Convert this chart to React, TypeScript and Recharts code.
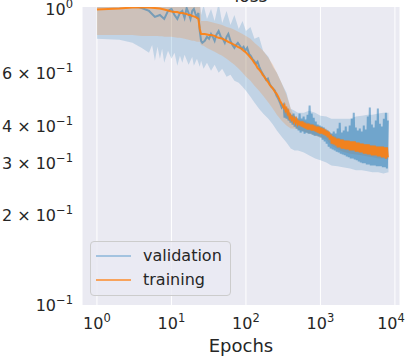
import React from "react";
import { ComposedChart, Area, Line, XAxis, YAxis, CartesianGrid, Legend } from "recharts";

// per-epoch mean loss (log spaced epochs, denser where the curves get noisy)
const lineEpochs = [
  1, 2, 3, 4, 5, 6, 7, 8, 9, 10, 11, 12, 13, 14, 15, 16, 17, 18, 19, 20, 21, 22, 23, 24, 25,
  26, 28, 30, 32, 34, 36, 38, 40, 43, 46, 49, 52, 55, 58, 62, 66, 70, 74, 78, 83, 88, 93, 98,
  104, 110, 116, 122, 129, 136, 143, 151, 159, 168, 177, 187, 197, 208, 219, 231, 244, 257, 271, 286, 302,
  320, 330, 340, 351, 362, 373, 385, 397, 410, 423,
  436, 450, 464, 479, 494, 509, 525, 542, 559, 576,
  595, 613, 633, 652, 673, 694, 716, 739, 762, 786,
  811, 836, 863, 890, 918, 947, 977, 1007, 1040, 1072,
  1106, 1141, 1177, 1214, 1252, 1292, 1332, 1374, 1417, 1462,
  1508, 1556, 1604, 1655, 1707, 1761, 1816, 1874, 1932, 1993,
  2056, 2121, 2187, 2256, 2327, 2401, 2476, 2554, 2634, 2718,
  2803, 2892, 2982, 3076, 3173, 3273, 3376, 3483, 3592, 3705,
  3821, 3942, 4066, 4194, 4326, 4463, 4602, 4747, 4897, 5051,
  5210, 5375, 5543, 5718, 5898, 6084, 6275, 6473, 6676, 6887,
  7103, 7327, 7558, 7796, 8041,
];

const trainLoss = [
  0.981, 0.989, 0.996, 0.996, 0.996, 0.992, 0.989, 0.981, 0.973, 0.966, 0.962, 0.962, 0.955, 0.955, 0.951,
  0.948, 0.94, 0.94, 0.933, 0.93, 0.926, 0.919, 0.912, 0.844, 0.812,
  0.812, 0.812, 0.809, 0.806, 0.806, 0.803, 0.8, 0.794, 0.788, 0.785, 0.782, 0.776, 0.77, 0.764, 0.758,
  0.752, 0.746, 0.741, 0.735, 0.729, 0.724, 0.713, 0.707,
  0.696, 0.686, 0.675, 0.665, 0.65, 0.64, 0.625, 0.616, 0.606, 0.592, 0.583, 0.57, 0.561, 0.549, 0.54,
  0.532, 0.52, 0.512, 0.5, 0.485, 0.474,
  0.46, 0.467, 0.449, 0.456, 0.439, 0.446, 0.425, 0.432, 0.419, 0.425,
  0.413, 0.422, 0.409, 0.419, 0.406, 0.416, 0.4, 0.413, 0.397, 0.413,
  0.394, 0.409, 0.391, 0.406, 0.388, 0.406, 0.388, 0.403, 0.385, 0.403,
  0.385, 0.4, 0.382, 0.397, 0.379, 0.397, 0.376, 0.394, 0.376, 0.391,
  0.373, 0.388, 0.37, 0.385, 0.365, 0.382, 0.359, 0.373, 0.348, 0.368,
  0.346, 0.365, 0.343, 0.362, 0.338, 0.362, 0.338, 0.359, 0.335, 0.359,
  0.335, 0.356, 0.333, 0.356, 0.333, 0.356, 0.33, 0.354, 0.33, 0.354,
  0.33, 0.354, 0.327, 0.351, 0.327, 0.351, 0.325, 0.348, 0.325, 0.348,
  0.322, 0.346, 0.322, 0.346, 0.32, 0.346, 0.32, 0.343, 0.318, 0.343,
  0.318, 0.343, 0.318, 0.34, 0.315, 0.34, 0.315, 0.34, 0.313, 0.34,
  0.313, 0.338, 0.31, 0.338, 0.313,
];

const valLoss = [
  1.023, 1.031, 1.016, 0.992, 0.97, 0.926, 0.94, 0.912, 0.97, 0.985, 0.94, 0.912, 0.955, 0.97, 0.919,
  0.992, 0.955, 0.912, 0.97, 0.985, 0.948, 0.926, 0.955, 0.831, 0.77,
  0.758, 0.77, 0.794, 0.782, 0.812, 0.794, 0.77, 0.806, 0.831, 0.794, 0.782, 0.758, 0.794, 0.812, 0.77,
  0.746, 0.729, 0.746, 0.758, 0.741, 0.724, 0.735, 0.713,
  0.729, 0.696, 0.686, 0.67, 0.66, 0.645, 0.655, 0.63, 0.611, 0.597, 0.583, 0.57, 0.575, 0.553, 0.54,
  0.532, 0.524, 0.504, 0.493, 0.478, 0.46,
  0.47, 0.425, 0.463, 0.422, 0.456, 0.416, 0.442, 0.409, 0.435, 0.403,
  0.439, 0.397, 0.429, 0.391, 0.422, 0.385, 0.439, 0.379, 0.422, 0.382,
  0.429, 0.376, 0.419, 0.379, 0.435, 0.376, 0.467, 0.376, 0.439, 0.373,
  0.425, 0.37, 0.413, 0.37, 0.403, 0.368, 0.4, 0.365, 0.397, 0.359,
  0.394, 0.354, 0.388, 0.348, 0.385, 0.34, 0.379, 0.335, 0.376, 0.333,
  0.382, 0.33, 0.376, 0.327, 0.391, 0.325, 0.409, 0.322, 0.379, 0.32,
  0.385, 0.318, 0.397, 0.315, 0.382, 0.313, 0.4, 0.31, 0.422, 0.31,
  0.442, 0.308, 0.394, 0.306, 0.385, 0.303, 0.391, 0.301, 0.382, 0.299,
  0.4, 0.299, 0.388, 0.296, 0.429, 0.296, 0.46, 0.294, 0.403, 0.294,
  0.394, 0.294, 0.416, 0.292, 0.456, 0.292, 0.406, 0.292, 0.397, 0.29,
  0.422, 0.29, 0.442, 0.287, 0.416,
];

// std bands
const bandEpochs = [
  1, 2, 3, 4, 5, 5.5, 6, 6.5, 7, 7.5, 8, 9, 10, 11, 12, 13, 14, 15, 17, 19, 20, 22, 24,
  25, 27, 30, 34, 38, 43, 48, 55, 62, 70, 80, 90,
  100, 115, 130, 150, 170, 200, 230, 260, 300, 350,
  400, 450, 500, 600, 700, 850, 1000, 1200, 1400, 1700,
  2000, 2500, 3000, 3600, 4300, 5000, 6000, 7000, 8200,
];

const valLow = [
  0.782, 0.776, 0.758, 0.729, 0.702, 0.746, 0.66, 0.735, 0.67, 0.724, 0.65, 0.713, 0.67, 0.702, 0.635,
  0.686, 0.65, 0.691, 0.64, 0.68, 0.635, 0.67, 0.63,
  0.66, 0.62, 0.65, 0.611, 0.64, 0.602, 0.62, 0.583, 0.592, 0.566, 0.557, 0.54,
  0.524, 0.5, 0.478, 0.456, 0.439, 0.422, 0.403, 0.385, 0.368, 0.351,
  0.335, 0.33, 0.33, 0.325, 0.318, 0.31, 0.306, 0.301, 0.294, 0.292,
  0.29, 0.287, 0.283, 0.283, 0.281, 0.279, 0.279, 0.276, 0.279,
];

const valHigh = [
  1.05, 1.05, 1.05, 1.05, 1.05, 1.05, 1.05, 1.05, 1.05, 1.05, 1.05, 1.05, 1.05, 1.05, 1.05,
  1.05, 1.05, 1.05, 1.05, 1.05, 1.05, 1.05, 1.05,
  0.94, 1.016, 0.912, 0.985, 0.898, 1.031, 0.884, 0.97, 0.871, 0.94, 0.844, 0.898,
  0.831, 0.857, 0.782, 0.794, 0.713, 0.681, 0.63, 0.602, 0.557, 0.516,
  0.456, 0.449, 0.442, 0.442, 0.449, 0.442, 0.432, 0.429, 0.422, 0.422,
  0.422, 0.422, 0.429, 0.432, 0.435, 0.435, 0.439, 0.442, 0.442,
];

const trainLow = [
  0.806, 0.806, 0.806, 0.8, 0.8, 0.8, 0.8, 0.8, 0.797, 0.797, 0.794, 0.794, 0.794, 0.791, 0.788,
  0.788, 0.785, 0.782, 0.776, 0.77, 0.77, 0.764, 0.764,
  0.746, 0.741, 0.729, 0.718, 0.707, 0.696, 0.686, 0.67, 0.655, 0.64, 0.62, 0.602,
  0.583, 0.566, 0.544, 0.524, 0.504, 0.478, 0.456, 0.435, 0.416, 0.4,
  0.391, 0.391, 0.388, 0.382, 0.376, 0.37, 0.365, 0.359, 0.343, 0.333,
  0.327, 0.322, 0.32, 0.318, 0.315, 0.313, 0.31, 0.31, 0.308,
];

const trainHigh = [
  1.05, 1.05, 1.05, 1.05, 1.05, 1.05, 1.05, 1.05, 1.05, 1.05, 1.05, 1.05, 1.05, 1.05, 1.05,
  1.05, 1.05, 1.05, 1.05, 1.05, 1.05, 1.05, 1.05,
  0.898, 0.898, 0.898, 0.891, 0.884, 0.877, 0.871, 0.857, 0.851, 0.838, 0.825, 0.812,
  0.8, 0.782, 0.758, 0.735, 0.713, 0.675, 0.64, 0.602, 0.557, 0.508,
  0.456, 0.429, 0.422, 0.416, 0.409, 0.403, 0.397, 0.391, 0.376, 0.365,
  0.359, 0.354, 0.351, 0.348, 0.346, 0.343, 0.34, 0.34, 0.338,
];

const xTicks = [1, 10, 100, 1000, 10000];
const xTickExponents = ["0", "1", "2", "3", "4"];
const yTicks = [0.1, 0.2, 0.3, 0.4, 0.6, 1];
const yTickMantissas = ["", "2", "3", "4", "6", ""];
const yTickExponents = ["\u22121", "\u22121", "\u22121", "\u22121", "\u22121", "0"];

const seriesNames = ["validation", "training"];
const legendColors = ["#a3c3e0", "#f8a35c"];

const lineData = lineEpochs.map((epoch, i) => ({ epoch, val: valLoss[i], train: trainLoss[i] }));
const bandData = bandEpochs.map((epoch, i) => ({
  epoch,
  valBand: [valLow[i], valHigh[i]],
  trainBand: [trainLow[i], trainHigh[i]],
}));

const FONT = "'DejaVu Sans', sans-serif";
const TEXT = "#262626";

function XTick(props: any) {
  const i = xTicks.indexOf(props.payload.value);
  return (
    <text x={props.x} y={329} textAnchor="middle" fontSize={16} fill={TEXT} fontFamily={FONT}>
      <tspan>10</tspan>
      <tspan dy={-7} fontSize={11.5}>{xTickExponents[i]}</tspan>
    </text>
  );
}

function YTick(props: any) {
  const i = yTicks.indexOf(props.payload.value);
  const m = yTickMantissas[i];
  return (
    <text x={73} y={props.y + 6} textAnchor="end" fontSize={16} fill={TEXT} fontFamily={FONT}>
      {m ? <tspan>{m + " \u00d7 "}</tspan> : null}
      <tspan>10</tspan>
      <tspan dy={-7} fontSize={11.5}>{yTickExponents[i]}</tspan>
    </text>
  );
}

function EpochsLabel(props: any) {
  const vb = props.viewBox || { x: 82, width: 318 };
  return (
    <text x={vb.x + vb.width / 2} y={352} textAnchor="middle" fontSize={18} fill={TEXT} fontFamily={FONT}>
      Epochs
    </text>
  );
}

function LegendBox() {
  return (
    <div
      style={{
        width: 139,
        height: 53,
        border: "1px solid #cccccc",
        borderRadius: 4,
        background: "rgba(234,234,242,0.8)",
        fontFamily: FONT,
        fontSize: 16,
        color: TEXT,
        position: "relative",
      }}
    >
      {seriesNames.map((name, i) => (
        <div key={name} style={{ position: "absolute", left: 0, top: 3 + i * 24, height: 22, width: 139 }}>
          <div style={{ position: "absolute", left: 5, top: 10, width: 35, height: 2, background: legendColors[i] }} />
          <div style={{ position: "absolute", left: 52, top: 0, lineHeight: "22px" }}>{name}</div>
        </div>
      ))}
    </div>
  );
}

export default function App() {
  return (
    <div style={{ position: "absolute", left: 0, top: 0, width: 411, height: 359, background: "#ffffff" }}>
      <svg style={{ position: "absolute", left: 0, top: 0 }} width={411} height={8}>
        <text x={251} y={1.5} textAnchor="middle" fontSize={17} fill={TEXT} fontFamily={FONT}>
          loss
        </text>
      </svg>
      <ComposedChart width={411} height={359} margin={{ top: 7, right: 11, bottom: 0, left: 0 }}>
        <CartesianGrid fill="#eaeaf2" stroke="#ffffff" strokeWidth={1} horizontal={false} />
        <XAxis
          dataKey="epoch"
          type="number"
          scale="log"
          domain={[0.63, 11700]}
          allowDataOverflow
          ticks={xTicks}
          tick={<XTick />}
          tickLine={false}
          axisLine={false}
          height={54}
          label={<EpochsLabel />}
        />
        <YAxis
          type="number"
          scale="log"
          domain={[0.1, 1]}
          allowDataOverflow
          ticks={yTicks}
          tick={<YTick />}
          tickLine={false}
          axisLine={false}
          width={82}
        />
        <Area
          data={bandData}
          dataKey="valBand"
          type="linear"
          stroke="none"
          fill="#1f77b4"
          fillOpacity={0.2}
          isAnimationActive={false}
          legendType="none"
          activeDot={false}
        />
        <Area
          data={bandData}
          dataKey="trainBand"
          type="linear"
          stroke="none"
          fill="#ff7f0e"
          fillOpacity={0.2}
          isAnimationActive={false}
          legendType="none"
          activeDot={false}
        />
        <Line
          data={lineData}
          dataKey="val"
          name="validation"
          type="linear"
          stroke="#1f77b4"
          strokeOpacity={0.5}
          strokeWidth={2}
          dot={false}
          activeDot={false}
          isAnimationActive={false}
        />
        <Line
          data={lineData}
          dataKey="train"
          name="training"
          type="linear"
          stroke="#ff7f0e"
          strokeOpacity={0.9}
          strokeWidth={2}
          dot={false}
          activeDot={false}
          isAnimationActive={false}
        />
        <Legend
          layout="horizontal"
          verticalAlign="middle"
          align="center"
          content={() => <LegendBox />}
          wrapperStyle={{ position: "absolute", left: 90, top: 241, width: 141, height: 55 }}
        />
      </ComposedChart>
    </div>
  );
}
